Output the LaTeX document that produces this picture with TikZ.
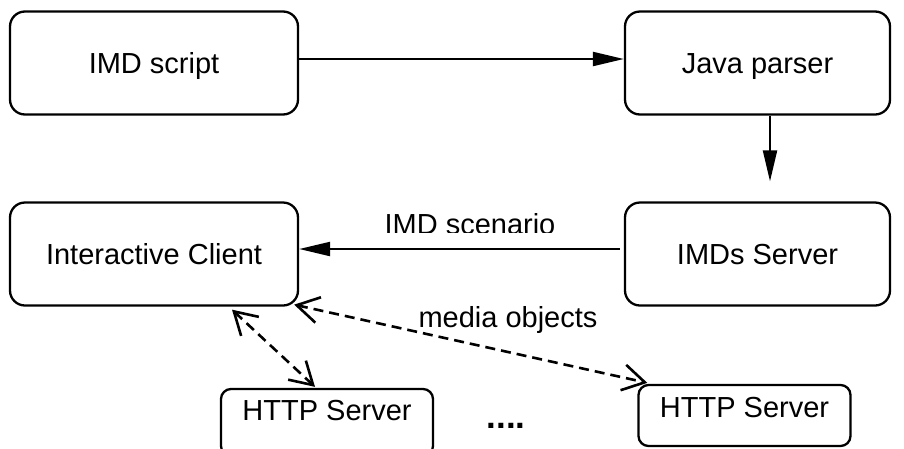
\documentclass[tikz,border=0pt]{standalone}
\usepackage{fontspec}
\setmainfont{Liberation Sans}
\usetikzlibrary{arrows.meta}

\begin{document}
\begin{tikzpicture}[x=1pt,y=-1pt,
  font=\fontsize{29}{34}\selectfont,
  block/.style={draw, line width=2.3pt, rounded corners=15pt, inner sep=0pt,
    text height=21pt, text depth=0pt, minimum height=103pt},
  smallblock/.style={draw, line width=2.3pt, rounded corners=10pt, inner xsep=0pt,
    text height=22pt, anchor=base, minimum width=212pt},
  flow/.style={line width=2.2pt, -{Triangle[length=31pt,width=14pt]}},
  media/.style={line width=2.6pt, dash pattern=on 10pt off 6pt,
    {Straight Barb[length=22pt,width=26pt]}-{Straight Barb[length=22pt,width=26pt]}}]

  \useasboundingbox (0,0) rectangle (904,448);

  % processing chain
  \node[block, minimum width=288pt] (script) at (154,63) {IMD script};
  \node[block, minimum width=265pt] (parser) at (757.5,63) {Java parser};
  \node[block, minimum width=288pt] (client) at (154,254) {Interactive Client};
  \node[block, minimum width=265pt] (server) at (757.5,254) {IMDs Server};

  % content servers
  \node[smallblock, inner ysep=9pt, text depth=27pt] (http1) at (327,420) {HTTP Server};
  \node[smallblock, inner ysep=10pt, text depth=19pt] (http2) at (744.5,417) {HTTP Server};
  \node[font=\fontsize{35}{40}\selectfont\bfseries, anchor=base] (dots) at (506,428) {....};

  % control flow
  \draw[flow] ([yshift=4pt]script.east) -- ([yshift=4pt]parser.west);
  \draw[flow] ([xshift=12.5pt]parser.south) -- ([xshift=12.5pt,yshift=20pt]server.north);
  \draw[flow] ([xshift=-4pt,yshift=5pt]server.west) -- ([yshift=5pt]client.east);
  \begin{scope}
    \clip (360,190) rectangle (580,232.5);
    \node[anchor=base] (scenario) at (470,234) {IMD scenario};
  \end{scope}

  % media transfer
  \draw[media] ([xshift=-5pt,yshift=2pt]client.south east) -- ([xshift=10pt,yshift=1pt]http2.north west);
  \draw[media] ([xshift=78pt,yshift=-3pt]client.south) -- ([xshift=-12pt,yshift=1pt]http1.north);
  \node[anchor=base] (objects) at (508,327) {media objects};
\end{tikzpicture}
\end{document}
